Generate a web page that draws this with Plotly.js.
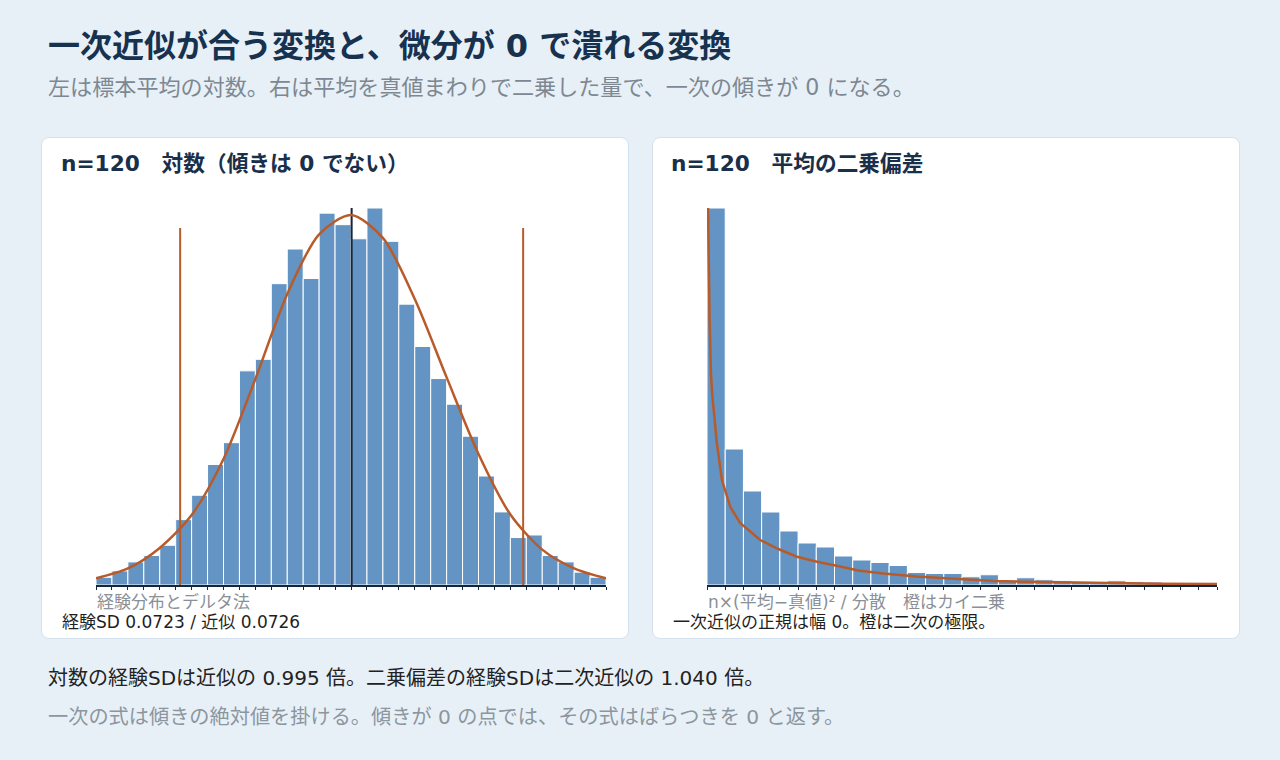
<!DOCTYPE html>
<html lang="ja">
<head>
<meta charset="utf-8">
<title>一次近似が合う変換と、微分が 0 で潰れる変換</title>
<script src="https://cdn.plot.ly/plotly-3.0.1.min.js"></script>
<style>
    html, body {
        margin: 0;
        padding: 0;
        width: 1280px;
        height: 760px;
        overflow: hidden;
        background: #e8f0f7;
        font-family: "DejaVu Sans", "Noto Sans CJK JP", sans-serif;
    }
    .abs { position: absolute; white-space: nowrap; }
    .title { left: 48px; top: 26px; font-size: 32px; line-height: 40px; font-weight: 700; color: #17324f; }
    .subtitle { left: 48px; top: 73px; font-size: 22.1px; line-height: 28px; color: #7d8892; }
    .card {
        position: absolute;
        top: 137px;
        width: 588px;
        height: 502px;
        box-sizing: border-box;
        background: #ffffff;
        border: 1px solid #d3e2ee;
        border-radius: 8px;
    }
    .card-title { top: 150px; font-size: 21.7px; line-height: 28px; font-weight: 700; color: #1a2f4a; }
    .chart { position: absolute; top: 137px; width: 588px; height: 502px; }
    .foot1 { left: 48px; top: 665px; font-size: 20px; line-height: 26px; color: #222222; }
    .foot2 { left: 48px; top: 704px; font-size: 20.2px; line-height: 26px; color: #8c969f; }
</style>
</head>
<body>

<div class="abs title">一次近似が合う変換と、微分が 0 で潰れる変換</div>
<div class="abs subtitle">左は標本平均の対数。右は平均を真値まわりで二乗した量で、一次の傾きが 0 になる。</div>

<div class="card" style="left:41px;"></div>
<div class="card" style="left:652px;"></div>
<div class="abs card-title" style="left:61px;">n=120　対数（傾きは 0 でない）</div>
<div class="abs card-title" style="left:671px;">n=120　平均の二乗偏差</div>

<div id="chart-log" class="chart" style="left:41px;"></div>
<div id="chart-sq" class="chart" style="left:652px;"></div>

<div class="abs foot1">対数の経験SDは近似の 0.995 倍。二乗偏差の経験SDは二次近似の 1.040 倍。</div>
<div class="abs foot2">一次の式は傾きの絶対値を掛ける。傾きが 0 の点では、その式はばらつきを 0 と返す。</div>

<script>
// --- left panel: log of the sample mean (bin width 0.0125) ---
const logBinStart = [-0.2, -0.1875, -0.175, -0.1625, -0.15, -0.1375, -0.125, -0.1125,
    -0.1, -0.0875, -0.075, -0.0625, -0.05, -0.0375, -0.025, -0.0125,
    0, 0.0125, 0.025, 0.0375, 0.05, 0.0625, 0.075, 0.0875,
    0.1, 0.1125, 0.125, 0.1375, 0.15, 0.1625, 0.175, 0.1875];
const logCounts = [6, 11, 18, 23, 31, 51, 70, 94,
    111, 167, 176, 235, 262, 239, 290, 281,
    270, 294, 268, 219, 186, 161, 141, 116,
    85, 57, 37, 39, 23, 18, 10, 6];
const logCurveX = [-0.2, -0.175, -0.15, -0.125, -0.1, -0.075, -0.05, -0.025, 0,
    0.025, 0.05, 0.075, 0.1, 0.125, 0.15, 0.175, 0.2];
const logCurveY = [5.2, 12.9, 28.9, 54.6, 98.3, 160.7, 227, 273.5, 288.6,
    270.7, 223, 161.9, 102.2, 55, 27.6, 13, 5.2];
const logDeltaBand = [-0.134, 0.135];
const logCenter = 0.0005;

// --- right panel: n*(mean - true)^2 / variance (bin width 0.5) ---
const sqBinStart = [0, 0.5, 1, 1.5, 2, 2.5, 3, 3.5, 4, 4.5, 5, 5.5, 6, 6.5,
    7, 7.5, 8, 8.5, 9, 9.5, 10, 10.5, 11, 11.5, 12, 12.5, 13, 13.5];
const sqCounts = [1508, 544, 376, 292, 216, 168, 152, 116, 100, 90, 78, 50, 46, 46,
    33, 41, 17, 29, 21, 17, 13, 11, 17, 13, 12, 0, 0, 0];
const sqCurveX = [0.012, 0.044, 0.071, 0.11, 0.145, 0.27, 0.41, 0.64, 0.91, 1.46, 1.96,
    2.47, 3.02, 3.56, 4.15, 4.84, 5.76, 6.67, 7.86, 8.77, 9.69, 10.59, 11.51, 12.43, 14];
const sqCurveY = [1680, 1308, 1060, 840, 760, 568, 420, 312, 248, 180, 144,
    113, 93, 77, 58, 46, 34, 26, 16, 13, 10, 8, 7, 5, 4];

const BAR_COLOR = '#6394c4';
const ORANGE = '#b95b29';
const NAVY = '#12263f';
const FONT = '"DejaVu Sans", "Noto Sans CJK JP", sans-serif';

/**
 * Histogram card: bars, reference curve, optional vertical markers, notes under the axis
 */
function drawHistogram(elementId, opts) {
    const yMax = Math.max(...opts.counts);

    const traces = [{
        type: 'bar',
        x: opts.binStart,
        y: opts.counts,
        width: opts.binWidth,
        offset: 0,
        marker: { color: BAR_COLOR, line: { color: '#ffffff', width: 1 } },
        hoverinfo: 'skip'
    }];

    // vertical marker lines (drawn before the curve so the curve sits on top)
    (opts.vlines || []).forEach(v => {
        traces.push({
            type: 'scatter',
            mode: 'lines',
            x: [v.x, v.x],
            y: [0, yMax * v.top],
            line: { color: v.color, width: 2 },
            hoverinfo: 'skip'
        });
    });

    traces.push({
        type: 'scatter',
        mode: 'lines',
        x: opts.curveX,
        y: opts.curveY,
        line: { color: ORANGE, width: 2.5, shape: opts.curveShape || 'linear', smoothing: 0.8 },
        hoverinfo: 'skip'
    });

    const layout = {
        width: 588,
        height: 502,
        margin: { l: 55, r: 23, t: 71, b: 54 },
        paper_bgcolor: 'rgba(0,0,0,0)',
        plot_bgcolor: 'rgba(0,0,0,0)',
        showlegend: false,
        bargap: 0,
        font: { family: FONT, size: 16, color: '#222222' },
        xaxis: {
            range: opts.xRange,
            showgrid: false,
            zeroline: false,
            showline: true,
            linecolor: NAVY,
            linewidth: 1.5,
            ticks: 'outside',
            ticklen: 3,
            tickwidth: 1,
            tickcolor: NAVY,
            tick0: opts.xRange[0],
            dtick: opts.binWidth,
            showticklabels: false,
            fixedrange: true
        },
        yaxis: {
            range: [0, yMax],
            visible: false,
            fixedrange: true
        },
        annotations: [
            {
                xref: 'paper', yref: 'paper',
                x: 0, y: -0.045,
                xanchor: 'left', yanchor: 'middle',
                text: opts.axisNote,
                showarrow: false,
                borderpad: 0,
                font: { family: FONT, size: 17, color: '#8a9098' }
            },
            {
                xref: 'paper', yref: 'paper',
                x: -0.069, y: -0.098,
                xanchor: 'left', yanchor: 'middle',
                text: opts.note,
                showarrow: false,
                borderpad: 0,
                font: { family: FONT, size: 17, color: '#1f1f1f' }
            }
        ]
    };

    Plotly.newPlot(elementId, traces, layout, { displayModeBar: false, staticPlot: true });
}

drawHistogram('chart-log', {
    binStart: logBinStart,
    counts: logCounts,
    binWidth: 0.0125,
    xRange: [-0.2, 0.2],
    curveX: logCurveX,
    curveY: logCurveY,
    curveShape: 'spline',
    vlines: [
        { x: logDeltaBand[0], top: 0.947, color: ORANGE },
        { x: logDeltaBand[1], top: 0.947, color: ORANGE },
        { x: logCenter, top: 1, color: NAVY }
    ],
    axisNote: '経験分布とデルタ法',
    note: '経験SD 0.0723 / 近似 0.0726'
});

drawHistogram('chart-sq', {
    binStart: sqBinStart,
    counts: sqCounts,
    binWidth: 0.5,
    xRange: [0, 14],
    curveX: sqCurveX,
    curveY: sqCurveY,
    curveShape: 'linear',
    vlines: [],
    axisNote: 'n×(平均−真値)² / 分散　橙はカイ二乗',
    note: '一次近似の正規は幅 0。橙は二次の極限。'
});
</script>
</body>
</html>
